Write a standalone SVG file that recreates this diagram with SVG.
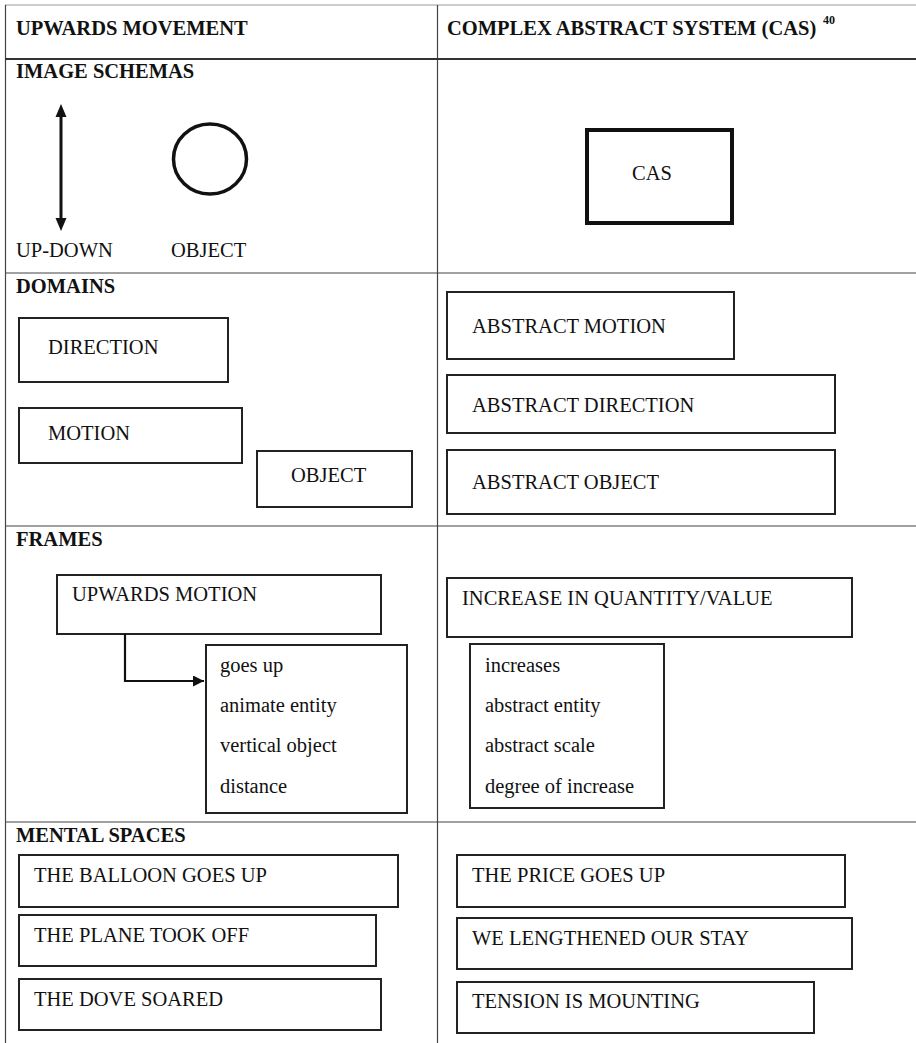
<svg xmlns="http://www.w3.org/2000/svg" width="916" height="1043" viewBox="0 0 916 1043">
  <defs>
    <style>
      text { font-family: "Liberation Serif", "DejaVu Serif", "Times New Roman", Times, serif; font-size: 20.5px; fill: #111; }
      .hd { font-weight: bold; }
      .sup { font-size: 12px; font-weight: bold; }
      .grid { stroke: #444; stroke-width: 1.2; fill: none; }
      .box { fill: #fff; stroke: #222; stroke-width: 2; }
      .thick { fill: #fff; stroke: #111; stroke-width: 4; }
      .conn { fill: none; stroke: #111; stroke-width: 2.2; }
    </style>
    <marker id="arrow" viewBox="0 0 10 10" refX="10" refY="5" markerWidth="5" markerHeight="5" orient="auto-start-reverse" markerUnits="strokeWidth">
      <path d="M0,0 L10,5 L0,10 Z" fill="#111"/>
    </marker>
  </defs>
  <rect width="916" height="1043" fill="#fff"/>

  <!-- table grid -->
  <g id="table">
    <line x1="5" y1="5" x2="916" y2="5" stroke="#bbb" stroke-width="1.5"/>
    <line x1="5.5" y1="5" x2="5.5" y2="1043" class="grid"/>
    <line x1="437.5" y1="5" x2="437.5" y2="1043" class="grid"/>
    <line x1="5" y1="59" x2="916" y2="59" stroke="#333" stroke-width="2.2"/>
    <line x1="5" y1="273" x2="916" y2="273" class="grid"/>
    <line x1="5" y1="526" x2="916" y2="526" class="grid"/>
    <line x1="5" y1="822" x2="916" y2="822" class="grid"/>
  </g>

  <!-- column and row headings -->
  <g id="headings">
    <text class="hd" x="16" y="35">UPWARDS MOVEMENT</text>
    <text class="hd" x="447" y="35">COMPLEX ABSTRACT SYSTEM (CAS)</text>
    <text class="sup" x="823" y="24">40</text>
    <text class="hd" x="16" y="78">IMAGE SCHEMAS</text>
    <text class="hd" x="16" y="293">DOMAINS</text>
    <text class="hd" x="16" y="546">FRAMES</text>
    <text class="hd" x="16" y="842">MENTAL SPACES</text>
  </g>

  <!-- image schemas -->
  <g id="up-down">
    <line x1="61" y1="117" x2="61" y2="218" stroke="#111" stroke-width="3"/>
    <polygon points="61,104 55.5,117 66.5,117" fill="#111"/>
    <polygon points="61,231 55.5,218 66.5,218" fill="#111"/>
    <text x="16" y="257">UP-DOWN</text>
  </g>
  <g id="object-schema">
    <ellipse cx="210" cy="159" rx="36.5" ry="35" fill="none" stroke="#111" stroke-width="3.5"/>
    <text x="171" y="257">OBJECT</text>
  </g>
  <g id="cas">
    <rect class="thick" x="587" y="130" width="145" height="93"/>
    <text x="632" y="180">CAS</text>
  </g>

  <!-- domains -->
  <g id="direction">
    <rect class="box" x="19" y="318" width="209" height="64"/>
    <text x="48" y="354">DIRECTION</text>
  </g>
  <g id="motion">
    <rect class="box" x="19" y="408" width="223" height="55"/>
    <text x="48" y="440">MOTION</text>
  </g>
  <g id="object-domain">
    <rect class="box" x="257" y="451" width="155" height="56"/>
    <text x="291" y="482">OBJECT</text>
  </g>
  <g id="abstract-motion">
    <rect class="box" x="447" y="292" width="287" height="67"/>
    <text x="472" y="333">ABSTRACT MOTION</text>
  </g>
  <g id="abstract-direction">
    <rect class="box" x="447" y="375" width="388" height="58"/>
    <text x="472" y="412">ABSTRACT DIRECTION</text>
  </g>
  <g id="abstract-object">
    <rect class="box" x="447" y="450" width="388" height="64"/>
    <text x="472" y="489">ABSTRACT OBJECT</text>
  </g>

  <!-- frames -->
  <g id="upwards-motion">
    <rect class="box" x="57" y="575" width="324" height="59"/>
    <text x="72" y="601">UPWARDS MOTION</text>
  </g>
  <g id="upwards-roles">
    <rect class="box" x="206" y="645" width="201" height="168"/>
    <text x="220" y="672">goes up</text>
    <text x="220" y="712">animate entity</text>
    <text x="220" y="752">vertical object</text>
    <text x="220" y="793">distance</text>
  </g>
  <g id="increase">
    <rect class="box" x="447" y="578" width="405" height="59"/>
    <text x="462" y="605">INCREASE IN QUANTITY/VALUE</text>
  </g>
  <g id="increase-roles">
    <rect class="box" x="470" y="644" width="194" height="164"/>
    <text x="485" y="672">increases</text>
    <text x="485" y="712">abstract entity</text>
    <text x="485" y="752">abstract scale</text>
    <text x="485" y="793">degree of increase</text>
  </g>

  <!-- mental spaces -->
  <g id="balloon">
    <rect class="box" x="19" y="855" width="379" height="52"/>
    <text x="34" y="882">THE BALLOON GOES UP</text>
  </g>
  <g id="plane">
    <rect class="box" x="19" y="915" width="357" height="51"/>
    <text x="34" y="942">THE PLANE TOOK OFF</text>
  </g>
  <g id="dove">
    <rect class="box" x="19" y="979" width="362" height="51"/>
    <text x="34" y="1006">THE DOVE SOARED</text>
  </g>
  <g id="price">
    <rect class="box" x="457" y="855" width="388" height="52"/>
    <text x="472" y="882">THE PRICE GOES UP</text>
  </g>
  <g id="stay">
    <rect class="box" x="457" y="918" width="395" height="51"/>
    <text x="472" y="945">WE LENGTHENED OUR STAY</text>
  </g>
  <g id="tension">
    <rect class="box" x="457" y="982" width="357" height="51"/>
    <text x="472" y="1008">TENSION IS MOUNTING</text>
  </g>

  <!-- connectors -->
  <g id="connectors">
    <path class="conn" d="M125,634 V681 H204" marker-end="url(#arrow)"/>
  </g>
</svg>
